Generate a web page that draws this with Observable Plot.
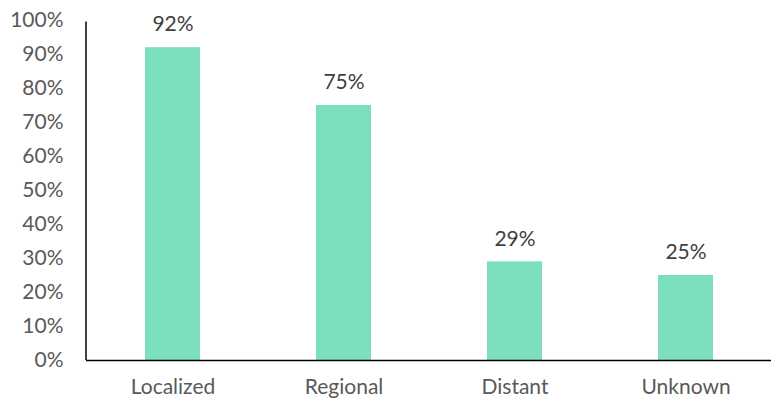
<!DOCTYPE html>
<html>
<head>
<meta charset="utf-8">
<script src="https://cdn.jsdelivr.net/npm/d3@7"></script>
<script src="https://cdn.jsdelivr.net/npm/@observablehq/plot@0.6"></script>
<style>
  html, body { margin: 0; padding: 0; background: #fff; }
  #chart svg { display: block; }
</style>
</head>
<body>
<div id="chart"></div>
<script>
const categories = ["Localized", "Regional", "Distant", "Unknown"];
const values = [92, 75, 29, 25];
const yTicks = [0, 10, 20, 30, 40, 50, 60, 70, 80, 90, 100];

const data = categories.map((c, i) => ({category: c, value: values[i]}));

const yAxisLine = (index, scales, channels, dims) =>
  d3.create("svg:line")
    .attr("x1", dims.marginLeft).attr("x2", dims.marginLeft)
    .attr("y1", scales.y(0)).attr("y2", scales.y(100) + 1.5)
    .attr("stroke", "#000").attr("stroke-width", 1.5)
    .node();

const chart = Plot.plot({
  width: 771,
  height: 401,
  marginLeft: 86,
  marginRight: 0,
  marginTop: 20,
  marginBottom: 41,
  style: {fontFamily: "Lato, 'Open Sans', sans-serif", fontSize: "21px", color: "#595959", background: "#fff"},
  x: {domain: categories, paddingInner: 0.68, paddingOuter: 0.34, label: null, tickSize: 0, tickPadding: 19},
  y: {domain: [0, 100], label: null},
  marks: [
    Plot.barY(data, {x: "category", y: "value", fill: "#7BDEBF"}),
    Plot.ruleY([0], {stroke: "#000", strokeWidth: 1.5}),
    yAxisLine,
    Plot.text(data, {x: "category", y: "value", text: d => d.value + "%", dy: -23, fill: "#404040", fontSize: 21}),
    Plot.axisX({tickSize: 0, tickPadding: 19, fill: "#595959", fontSize: 21, label: null}),
    Plot.axisY({ticks: yTicks, tickFormat: d => d + "%", tickSize: 0, tickPadding: 23, fill: "#595959", fontSize: 21, label: null})
  ]
});

document.getElementById("chart").appendChild(chart);
</script>
</body>
</html>
